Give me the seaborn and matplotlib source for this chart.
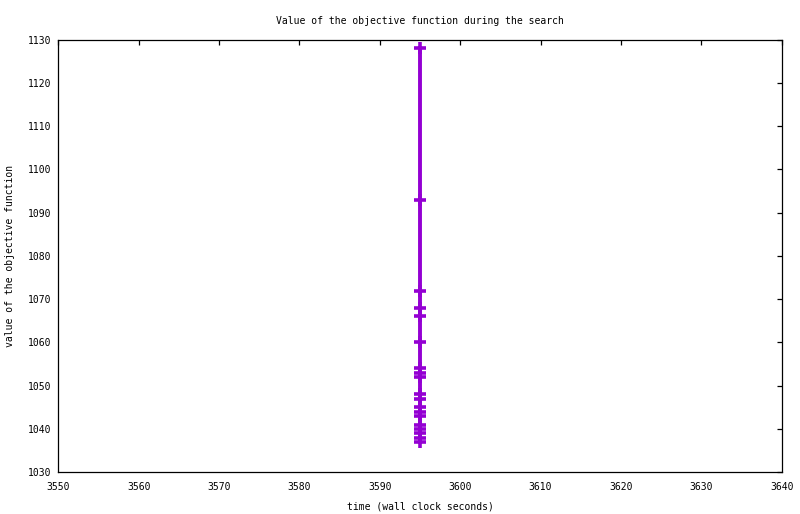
import matplotlib
matplotlib.use("Agg")
import matplotlib.pyplot as plt
import numpy as np
import pandas as pd
import seaborn as sns

# objective value over wall-clock time (all improvements land near t=3595)
times = [3595] * 19
objective = [1128, 1093, 1072, 1068, 1066, 1060, 1054, 1053, 1052, 1048,
             1047, 1045, 1044, 1043, 1041, 1040, 1039, 1038, 1037]
x_ticks = list(range(3550, 3641, 10))
y_ticks = list(range(1030, 1131, 10))

sns.set_theme(style="white")
plt.rcParams["font.family"] = ["DejaVu Sans Mono"]
plt.rcParams["text.color"] = "black"
plt.rcParams["axes.labelcolor"] = "black"

line_color = "#9400d3"

fig = plt.figure(figsize=(8, 5.14), dpi=100)
ax = fig.add_axes([58.3 / 800, 1 - 472.3 / 514, (781.7 - 58.3) / 800, (472.3 - 39.5) / 514])

df = pd.DataFrame({"time": times, "value": objective})
sns.lineplot(
    data=df, x="time", y="value", ax=ax,
    estimator=None, sort=False,
    color=line_color, linewidth=2.8,
    marker="+", markersize=8, markeredgewidth=2.6,
    markeredgecolor=line_color, markerfacecolor=line_color,
)

ax.set_xlim(3550, 3640)
ax.set_ylim(1030, 1130)
ax.set_xticks(x_ticks)
ax.set_yticks(y_ticks)
ax.tick_params(direction="in", length=3.6, width=0.9, top=True, right=True,
               labelsize=7, colors="black", pad=5)
ax.tick_params(axis="x", pad=7)
for s in ax.spines.values():
    s.set_color("black")
    s.set_linewidth(0.9)

ax.set_title("Value of the objective function during the search", fontsize=7,
             pad=11, color="black")
ax.set_xlabel("time (wall clock seconds)", fontsize=7, labelpad=7)
ax.set_ylabel("value of the objective function", fontsize=7, labelpad=9)

fig.savefig("out.png", dpi=100, facecolor="white")
